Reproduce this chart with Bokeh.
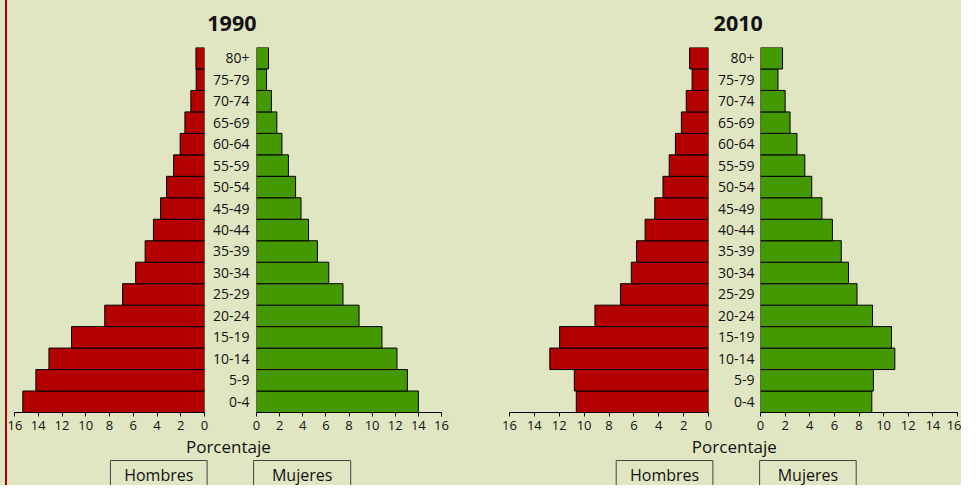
from bokeh.plotting import figure
from bokeh.models import Range1d, FactorRange, FixedTicker, Spacer
from bokeh.layouts import column, row
from bokeh.core.properties import value
from bokeh.embed import file_html
from bokeh.resources import INLINE

# ---------------- data ----------------
ages = ["0-4", "5-9", "10-14", "15-19", "20-24", "25-29", "30-34", "35-39",
        "40-44", "45-49", "50-54", "55-59", "60-64", "65-69", "70-74", "75-79", "80+"]
hombres_1990 = [15.3, 14.2, 13.1, 11.2, 8.4, 6.9, 5.8, 5.0, 4.3, 3.7, 3.2, 2.6,
                2.05, 1.65, 1.15, 0.7, 0.72]
mujeres_1990 = [14.0, 13.05, 12.15, 10.85, 8.87, 7.48, 6.25, 5.27, 4.5, 3.85, 3.38,
                2.76, 2.2, 1.76, 1.29, 0.87, 1.04]
hombres_2010 = [10.63, 10.79, 12.76, 11.97, 9.13, 7.08, 6.21, 5.79, 5.1, 4.32, 3.66,
                3.16, 2.66, 2.18, 1.79, 1.32, 1.52]
mujeres_2010 = [9.04, 9.17, 10.91, 10.64, 9.1, 7.84, 7.15, 6.56, 5.84, 4.99, 4.16,
                3.6, 2.96, 2.4, 2.0, 1.42, 1.79]
years = ["1990", "2010"]
sexes = ["Hombres", "Mujeres"]
axis_title = "Porcentaje"
ticks = [0, 2, 4, 6, 8, 10, 12, 14, 16]

# ---------------- style ----------------
BG = "#e1e6c2"
RED = "#b30000"
GREEN = "#449900"
EDGE = "#a80000"
FONT = "Open Sans"
TXT = "#111111"
TOTAL_W = 961
TOTAL_H = 485
LEFT_PAD = 7
INNER_W = TOTAL_W - LEFT_PAD
TOP_H = 42
PANEL_H = 394
BOT_H = TOTAL_H - TOP_H - PANEL_H


def panel(values, color, side, width, bl, br, xmax=16):
    xr = Range1d(16, 0) if side == "L" else Range1d(0, xmax)
    p = figure(width=width, height=PANEL_H, x_range=xr,
               y_range=FactorRange(factors=ages),
               output_backend="svg", toolbar_location=None,
               min_border_left=bl, min_border_right=br,
               min_border_top=5, min_border_bottom=24,
               background_fill_color=BG, border_fill_color=BG,
               outline_line_color=None,
               y_axis_location=("left" if side == "R" else None))
    p.hbar(y=ages, left=0, right=values, height=1,
           fill_color=color, line_color="black", line_width=1)
    p.xgrid.visible = False
    p.ygrid.visible = False
    xa = p.xaxis[0]
    xa.ticker = FixedTicker(ticks=ticks)
    xa.minor_tick_line_color = None
    xa.major_tick_in = 0
    xa.major_tick_out = 4
    xa.major_label_standoff = 4
    xa.major_label_text_font = FONT
    xa.major_label_text_font_size = "13px"
    xa.major_label_text_color = TXT
    xa.axis_line_color = "black"
    xa.major_tick_line_color = "black"
    if side == "R":
        ya = p.yaxis[0]
        ya.axis_line_color = None
        ya.major_tick_line_color = None
        ya.minor_tick_line_color = None
        ya.major_tick_out = 0
        ya.major_tick_in = 0
        ya.major_label_standoff = 6 if width < 250 else 7
        ya.major_label_text_font = FONT
        ya.major_label_text_font_size = "14px"
        ya.major_label_text_color = TXT
    return p


l90 = panel(hombres_1990, RED, "L", 202, 7, 5)
r90 = panel(mujeres_1990, GREEN, "R", 261, 44, 29)
l10 = panel(hombres_2010, RED, "L", 243, 39, 5)
r10 = panel(mujeres_2010, GREEN, "R", 248, 47, 4)


def strip(h):
    s = figure(width=INNER_W, height=h, x_range=Range1d(LEFT_PAD, TOTAL_W),
               y_range=Range1d(0, h), output_backend="svg",
               toolbar_location=None, min_border=0,
               min_border_left=0, min_border_right=0,
               min_border_top=0, min_border_bottom=0,
               x_axis_location=None, y_axis_location=None,
               background_fill_color=BG, border_fill_color=BG,
               outline_line_color=None)
    s.xgrid.visible = False
    s.ygrid.visible = False
    return s


top = strip(TOP_H)
top.text(x=[231.4, 737.7], y=[18.7, 18.7], text=years,
         text_font=value(FONT), text_font_style="bold",
         text_font_size="21.5px", text_color=TXT,
         text_align="center", text_baseline="alphabetic")

bot = strip(BOT_H)
bot.text(x=[227.9, 733.8], y=[39.5, 39.5], text=[axis_title, axis_title],
         text_font=value(FONT), text_font_size="17px", text_color=TXT,
         text_align="center", text_baseline="alphabetic")
box_left = [109.9, 253.1, 615.7, 759.1]
box_right = [206.6, 350.2, 712.4, 855.7]
bot.quad(left=box_left, right=box_right, top=[25] * 4, bottom=[-10] * 4,
         fill_color=BG, line_color="#444444", line_width=1)
bot.text(x=[(a + b) / 2 for a, b in zip(box_left, box_right)], y=[11] * 4,
         text=sexes + sexes,
         text_font=value(FONT), text_font_size="16px", text_color=TXT,
         text_align="center", text_baseline="alphabetic")

pad = Spacer(width=5, height=TOTAL_H, styles={"background-color": BG})
edge = Spacer(width=2, height=TOTAL_H, styles={"background-color": EDGE})
body = column(top, row(l90, r90, l10, r10), bot)
layout = row(pad, edge, body)
layout.styles = {"background-color": BG}

open("out.html", "w").write(file_html(layout, INLINE))
